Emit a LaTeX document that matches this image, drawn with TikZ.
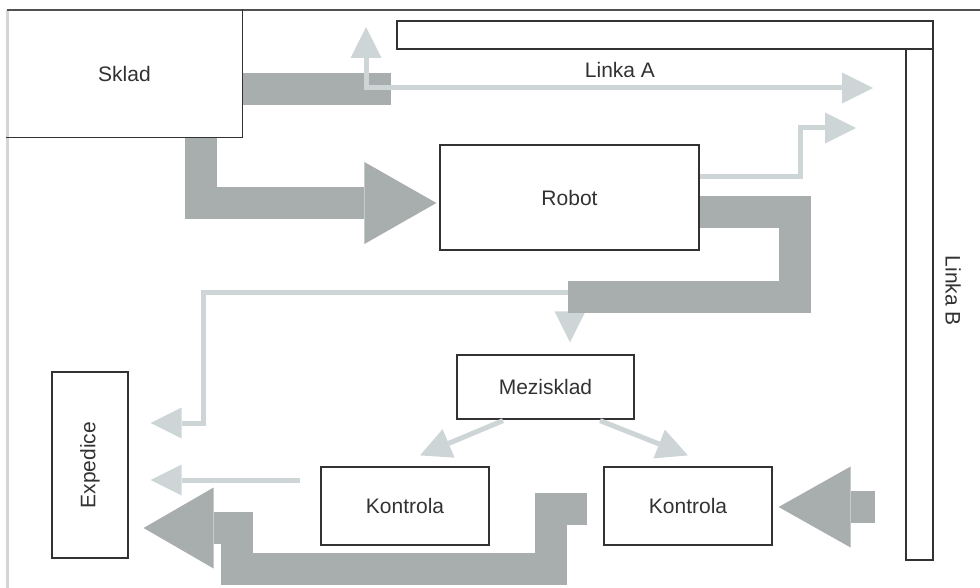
\documentclass[tikz,border=0pt]{standalone}
\usepackage{fontspec}
\usepackage{graphicx}
\setmainfont{Liberation Sans}
\usetikzlibrary{arrows.meta,calc}

\definecolor{heavygray}{RGB}{168,173,174}
\definecolor{palegray}{RGB}{206,213,215}
\definecolor{inkgray}{RGB}{50,50,50}
\definecolor{framegray}{RGB}{212,214,214}

\tikzset{
  box/.style={draw=inkgray, line width=1.2pt, inner sep=0pt, text=inkgray,
    font=\fontsize{21}{25}\selectfont},
  bar/.style={draw=inkgray, line width=1.2pt, inner sep=0pt},
  tag/.style={inner sep=0pt, text=inkgray, font=\fontsize{21}{25}\selectfont},
  boxline/.style={draw=inkgray, line width=1.2pt},
  heavyflow/.style={draw=heavygray, line width=32pt},
  paleflow/.style={draw=palegray, line width=5pt},
  heavytip/.tip={Triangle[length=72pt,width=82pt,line width=0pt]},
  paletip/.tip={Triangle[length=31pt,width=31pt,line width=0pt]}
}

\begin{document}
\begin{tikzpicture}[x=1pt,y=-1pt]
  \useasboundingbox (0,0) rectangle (980,588);

  \node[box,draw=none,minimum width=235pt,minimum height=127pt] (sklad) at (124.5,73.5) {Sklad};
  \node[box,minimum width=259pt,minimum height=105pt] (robot) at (569.5,197.5) {Robot};
  \node[box,minimum width=177pt,minimum height=64pt] (mezisklad) at (545.5,387) {Mezisklad};
  \node[box,minimum width=168pt,minimum height=78pt] (kontrolaL) at (405,506) {Kontrola};
  \node[box,minimum width=168pt,minimum height=78pt] (kontrolaR) at (688,506) {Kontrola};
  \node[box,minimum width=76pt,minimum height=186pt] (expedice) at (90,465) {\rotatebox{90}{Expedice}};

  \node[bar,minimum width=536pt,minimum height=28pt] (linkaA) at (665,35) {};
  \node[bar,minimum width=27pt,minimum height=511pt] (linkaB) at (919.5,304.5) {};
  \node[tag] (linkaAtext) at (620,70) {Linka A};
  \node[tag] (linkaBtext) at (953,291) {\rotatebox{-90}{Linka B}};

  \draw[framegray,line width=3pt] (7,10) -- (7,588);
  \draw[inkgray!85,line width=1.5pt] (7,10) -- (980,10);
  \draw[boxline] (sklad.north east) |- (sklad.south west);

  \coordinate (stubA) at (391,89);
  \coordinate (upA) at (366,27);
  \coordinate (toA) at (873,88);
  \coordinate (toA2) at (856,128);
  \coordinate (split) at (570,292);
  \coordinate (drop) at (568,297);
  \coordinate (toMez) at ($(mezisklad.north -| split)+(0,-12)$);
  \coordinate (toExp1) at ($(expedice.east)+(22,-42)$);
  \coordinate (toExp2) at ($(expedice.east)+(22,15)$);
  \coordinate (toExp3) at ($(expedice.east)+(15,63)$);
  \coordinate (mezL) at ($(mezisklad.south)+(-42.5,1)$);
  \coordinate (mezR) at ($(mezisklad.south)+(54.5,1)$);
  \coordinate (konL) at ($(kontrolaL.north)+(15,-11)$);
  \coordinate (konR) at ($(kontrolaR.north)+(0,-11)$);
  \coordinate (fromB) at ($(kontrolaR.east)+(102,1)$);
  \coordinate (toKR) at ($(kontrolaR.east)+(6,1)$);

  \draw[paleflow,paletip-paletip] (toMez) -- (split) -| (203,423) -- (toExp1);

  \draw[heavyflow] (sklad.east |- stubA) -- (stubA);
  \draw[heavyflow,-heavytip] ($(sklad.south)+(76.5,0)$) |- ($(robot.west)+(-3,5.5)$);
  \draw[heavyflow] ($(robot.east)+(0,14.5)$) -| (794.5,297) -- (drop);
  \draw[heavyflow,-{Triangle[length=70pt,width=81pt,line width=0pt]}]
    ($(kontrolaR.west)+(-16,3)$) -- (551,509) -- (551,569) -| (237,528) -- (toExp3);
  \draw[heavyflow,-{Triangle[length=72pt,width=81pt,line width=0pt]}] (fromB) -- (toKR);

  \draw[paleflow,paletip-paletip] (upA) -- (366,88) -- (toA);
  \draw[paleflow,-paletip] ($(robot.east)+(0,-20.5)$) -| (800,128) -- (toA2);
  \foreach \from/\to in {mezL/konL,mezR/konR}
  \draw[paleflow,-paletip] (\from) -- (\to);
  \draw[paleflow,-paletip] ($(kontrolaL.west)+(-20,-26)$) -- (toExp2);

\end{tikzpicture}
\end{document}
